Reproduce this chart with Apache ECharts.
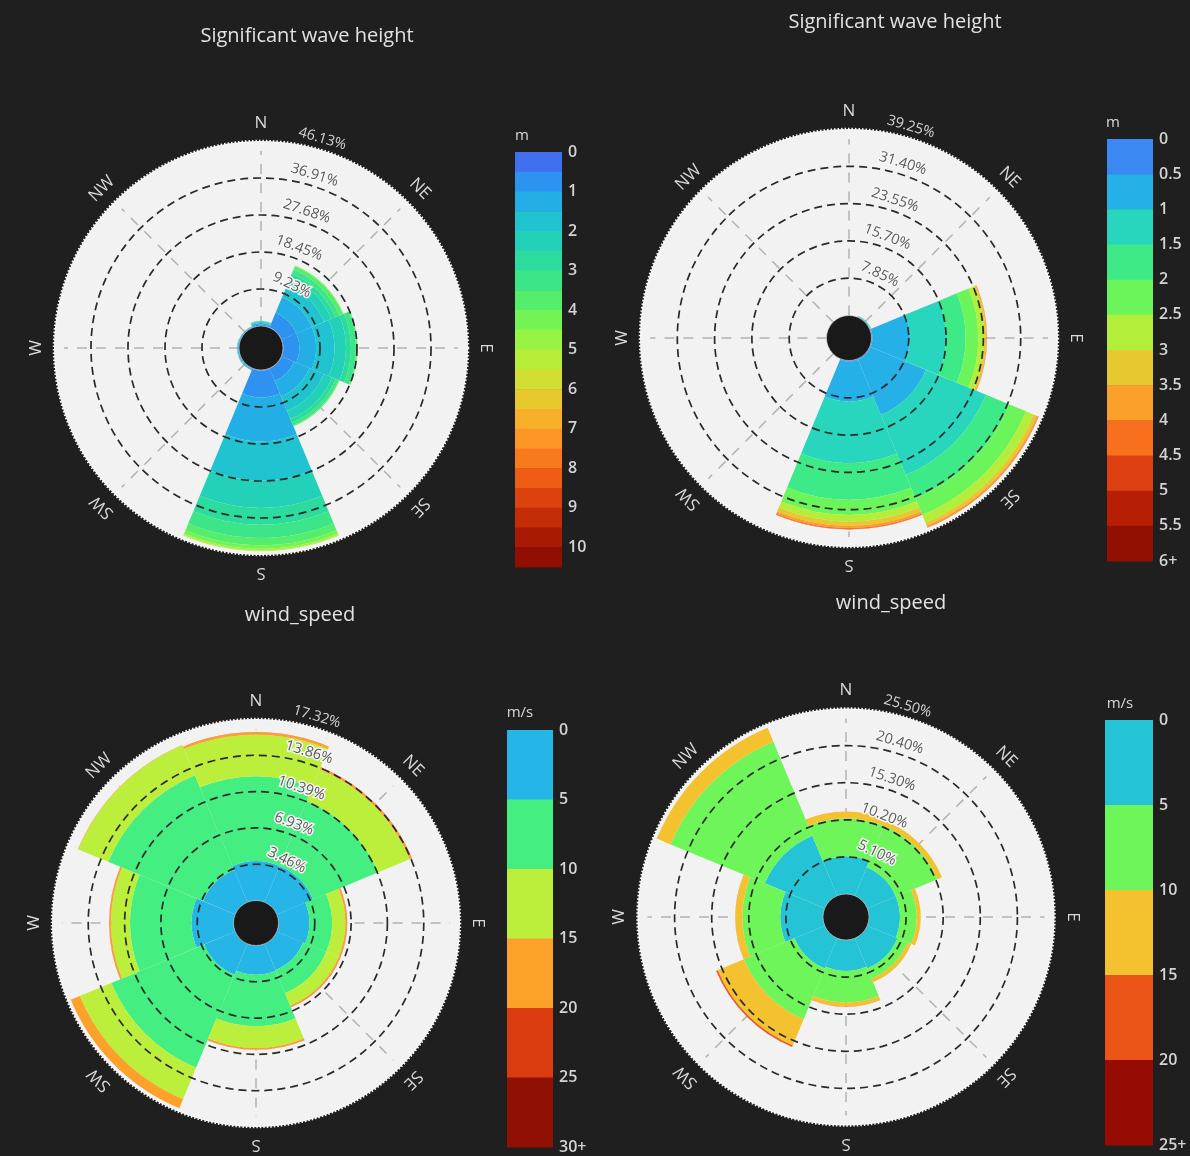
<!DOCTYPE html>
<html>
<head>
<meta charset="utf-8">
<title>Wave height and wind speed roses</title>
<script src="https://cdn.jsdelivr.net/npm/echarts@6/dist/echarts.min.js"></script>
<style>
  html, body { margin: 0; padding: 0; background: #1f1f1f; }
  #chart { width: 1190px; height: 1156px; }
</style>
</head>
<body>
<div id="chart"></div>
<script>
const FONT = "'Open Sans', 'Noto Sans', 'DejaVu Sans', sans-serif";

// Compass sectors, clockwise from north
const directions = ['N', 'NE', 'E', 'SE', 'S', 'SW', 'W', 'NW'];

// ---- Rose 1: significant wave height, 0.5 m classes (share of records, %) ----
const waveAClasses = ['0-0.5', '0.5-1', '1-1.5', '1.5-2', '2-2.5', '2.5-3', '3-3.5', '3.5-4', '4-4.5', '4.5-5',
  '5-5.5', '5.5-6', '6-6.5', '6.5-7', '7-7.5', '7.5-8', '8-8.5', '8.5-9', '9-9.5', '9.5-10', '10+'];
const waveAValues = [
  [0.05, 0.10, 0.10, 0.10, 0.20, 0.02, 0.02, 0.02],
  [0.30, 3.90, 3.97, 3.30, 6.60, 0.20, 0.15, 0.15],
  [0.35, 4.23, 4.16, 4.20, 11.00, 0.22, 0.18, 0.13],
  [0.25, 3.32, 4.57, 3.90, 9.80, 0.10, 0.10, 0.06],
  [0.15, 1.92, 2.90, 2.20, 6.80, 0.04, 0.04, 0.03],
  [0.10, 1.13, 1.26, 1.00, 4.20, 0.02, 0.01, 0.01],
  [0.06, 1.10, 1.24, 0.70, 3.30, 0, 0, 0],
  [0.04, 0.90, 0.35, 0.25, 1.80, 0, 0, 0],
  [0, 0.20, 0.05, 0.05, 0.90, 0, 0, 0],
  [0, 0, 0, 0, 0.40, 0, 0, 0],
  [0, 0, 0, 0, 0.15, 0, 0, 0],
  [0, 0, 0, 0, 0.07, 0, 0, 0],
  [0, 0, 0, 0, 0, 0, 0, 0],
  [0, 0, 0, 0, 0, 0, 0, 0],
  [0, 0, 0, 0, 0, 0, 0, 0],
  [0, 0, 0, 0, 0, 0, 0, 0],
  [0, 0, 0, 0, 0, 0, 0, 0],
  [0, 0, 0, 0, 0, 0, 0, 0],
  [0, 0, 0, 0, 0, 0, 0, 0],
  [0, 0, 0, 0, 0, 0, 0, 0],
  [0, 0, 0, 0, 0, 0, 0, 0]
];
const waveAColors = ['#4070f0', '#2e92f0', '#24aee6', '#20c3d0', '#22d1b8', '#2bdc9e', '#3ce587', '#55ed6c',
  '#74f355', '#97f344', '#b7ec39', '#d2de31', '#e8c92d', '#f6b02a', '#fc9626', '#f97a1e', '#ee5c16',
  '#dc420e', '#c42c08', '#a81a04', '#900e02'];
const waveARings = [9.23, 18.45, 27.68, 36.91, 46.13];
const waveAScale = ['0', '1', '2', '3', '4', '5', '6', '7', '8', '9', '10'];

// ---- Rose 2: significant wave height, 0.5 m classes up to 6+ m ----
const waveBClasses = ['0-0.5', '0.5-1', '1-1.5', '1.5-2', '2-2.5', '2.5-3', '3-3.5', '3.5-4', '4-4.5', '4.5-5', '5-5.5', '5.5-6+'];
const waveBValues = [
  [0, 0.05, 0.20, 0.20, 0.20, 0, 0, 0],
  [0, 0.10, 7.84, 12.60, 8.40, 0, 0, 0],
  [0, 0.10, 7.64, 13.70, 13.00, 0, 0, 0],
  [0, 0.08, 4.14, 5.30, 7.70, 0, 0, 0],
  [0, 0.02, 2.67, 3.80, 3.20, 0, 0, 0],
  [0, 0, 1.26, 1.70, 1.40, 0, 0, 0],
  [0, 0, 0.35, 0.70, 0.90, 0, 0, 0],
  [0, 0, 0.15, 0.35, 0.45, 0, 0, 0],
  [0, 0, 0.06, 0.13, 0.20, 0, 0, 0],
  [0, 0, 0, 0, 0.10, 0, 0, 0],
  [0, 0, 0, 0, 0, 0, 0, 0],
  [0, 0, 0, 0, 0, 0, 0, 0]
];
const waveBColors = ['#3b88f2', '#25b0e8', '#27d6bc', '#3eea88', '#6cf55a', '#b2ee3a', '#e6c830', '#fba02a',
  '#f8701e', '#dc4010', '#b81e04', '#921002'];
const waveBRings = [7.85, 15.70, 23.55, 31.40, 39.25];
const waveBScale = ['0', '0.5', '1', '1.5', '2', '2.5', '3', '3.5', '4', '4.5', '5', '5.5', '6+'];

// ---- Rose 3: wind speed, 5 m/s classes up to 30+ ----
const windAClasses = ['0-5', '5-10', '10-15', '15-20', '20-25', '25-30+'];
const windAValues = [
  [3.74, 3.74, 2.94, 2.72, 2.78, 3.20, 3.99, 3.32],
  [8.11, 6.74, 2.16, 2.38, 4.93, 9.60, 5.89, 9.80],
  [3.97, 3.25, 1.28, 1.28, 2.07, 3.25, 1.81, 3.08],
  [0.23, 0.22, 0.16, 0.16, 0.16, 0.93, 0.16, 0.05],
  [0.02, 0.02, 0.02, 0.02, 0.02, 0, 0.02, 0],
  [0, 0, 0, 0, 0, 0, 0, 0]
];
const windAColors = ['#25b5e6', '#45ee80', '#bcee3c', '#fca12a', '#dc3d10', '#901003'];
const windARings = [3.46, 6.93, 10.39, 13.86, 17.32];
const windAScale = ['0', '5', '10', '15', '20', '25', '30+'];

// ---- Rose 4: wind speed, 5 m/s classes up to 25+ ----
const windBClasses = ['0-5', '5-10', '10-15', '15-20', '20-25+'];
const windBValues = [
  [5.16, 4.24, 4.24, 4.50, 4.24, 4.50, 5.85, 8.92],
  [5.27, 6.19, 2.30, 1.49, 4.36, 7.54, 5.23, 14.00],
  [0.92, 0.69, 0.55, 0.55, 0.55, 3.90, 0.96, 2.08],
  [0, 0, 0, 0, 0.02, 0.23, 0.02, 0],
  [0, 0, 0, 0, 0, 0, 0, 0]
];
const windBColors = ['#24c4d6', '#6ef55a', '#f3c22e', '#ec5518', '#960b02'];
const windBRings = [5.10, 10.20, 15.30, 20.40, 25.50];
const windBScale = ['0', '5', '10', '15', '20', '25+'];

const panels = [
  { title: 'Significant wave height', unit: 'm', classes: waveAClasses, values: waveAValues, colors: waveAColors, rings: waveARings, scale: waveAScale, step: 2 },
  { title: 'Significant wave height', unit: 'm', classes: waveBClasses, values: waveBValues, colors: waveBColors, rings: waveBRings, scale: waveBScale, step: 1 },
  { title: 'wind_speed', unit: 'm/s', classes: windAClasses, values: windAValues, colors: windAColors, rings: windARings, scale: windAScale, step: 1 },
  { title: 'wind_speed', unit: 'm/s', classes: windBClasses, values: windBValues, colors: windBColors, rings: windBRings, scale: windBScale, step: 1 }
];

// Placement of each rose, its title and its colour scale
const layout = [
  { cx: 261, cy: 348, r0: 22, r1: 207, tx: 307, ty: 36, bar: [515, 152, 47, 415], ux: 522, uy: 136 },
  { cx: 849, cy: 338, r0: 22.5, r1: 209, tx: 895, ty: 22, bar: [1107, 139, 46, 422], ux: 1113, uy: 123 },
  { cx: 256, cy: 923, r0: 22.5, r1: 204, tx: 300, ty: 615, bar: [507, 730, 46, 417], ux: 520, uy: 713 },
  { cx: 846, cy: 917, r0: 23, r1: 208.5, tx: 891, ty: 603, bar: [1105, 720, 48, 425], ux: 1120, uy: 704 }
];

const option = {
  backgroundColor: '#1f1f1f',
  animation: false,
  polar: [], angleAxis: [], radiusAxis: [],
  grid: [], xAxis: [], yAxis: [],
  series: [],
  graphic: []
};

panels.forEach((p, i) => {
  const L = layout[i];
  const maxR = p.rings[p.rings.length - 1];

  option.polar.push({ center: [L.cx, L.cy], radius: [L.r0, L.r1] });
  option.angleAxis.push({
    polarIndex: i, type: 'category', data: directions, startAngle: 112.5, clockwise: true, boundaryGap: true,
    axisLine: { show: false }, axisTick: { show: false }, axisLabel: { show: false }, splitLine: { show: false }
  });
  option.radiusAxis.push({
    polarIndex: i, type: 'value', min: 0, max: maxR,
    axisLine: { show: false }, axisTick: { show: false }, axisLabel: { show: false }, splitLine: { show: false }
  });

  // light disc behind the rose
  option.series.push({
    type: 'custom', coordinateSystem: 'polar', polarIndex: i, silent: true, z: 1,
    data: [[0, 0]],
    renderItem: (params) => {
      const cs = params.coordSys;
      return {
        type: 'circle', shape: { cx: cs.cx, cy: cs.cy, r: cs.r },
        style: { fill: '#f2f2f2', stroke: '#fbfbfb', lineWidth: 2.5, lineDash: [1.5, 2] }
      };
    }
  });

  // compass spokes
  option.series.push({
    type: 'custom', coordinateSystem: 'polar', polarIndex: i, silent: true, z: 1,
    data: directions.map((d, k) => [maxR, k]),
    renderItem: (params, api) => {
      const cs = params.coordSys;
      const pt = api.coord([api.value(0), api.value(1)]);
      const dx = pt[0] - cs.cx, dy = pt[1] - cs.cy, len = Math.hypot(dx, dy);
      const ux = dx / len, uy = dy / len, a = cs.r0, b = cs.r - 10;
      return {
        type: 'line',
        shape: { x1: cs.cx + ux * a, y1: cs.cy + uy * a, x2: cs.cx + ux * b, y2: cs.cy + uy * b },
        style: { stroke: '#b3b3b3', lineWidth: 1.5, lineDash: [10, 9] }
      };
    }
  });

  // stacked sectors, one series per class
  p.values.forEach((row, b) => {
    option.series.push({
      type: 'bar', coordinateSystem: 'polar', polarIndex: i, stack: 'rose' + i,
      name: p.classes[b], data: row, barCategoryGap: '0%', silent: true, z: 2,
      itemStyle: { color: p.colors[b] }, emphasis: { disabled: true }
    });
  });

  // dashed percentage rings and their labels
  option.series.push({
    type: 'custom', coordinateSystem: 'polar', polarIndex: i, silent: true, z: 4,
    data: p.rings.map(v => [v, 0]),
    renderItem: (params, api) => {
      const cs = params.coordSys;
      const v = api.value(0);
      const r = api.coord([v, 0])[2];
      const outer = params.dataIndex === p.rings.length - 1;
      const children = [];
      if (!outer) {
        children.push({
          type: 'circle', shape: { cx: cs.cx, cy: cs.cy, r: r },
          style: { fill: 'none', stroke: '#2a2a2a', lineWidth: 1.7, lineDash: [8, 5] }
        });
      }
      const phi = (12.5 + 800 / r) * Math.PI / 180;
      const d = r + 11;
      const style = {
        text: v.toFixed(2) + '%', font: '14.5px ' + FONT, align: 'center', verticalAlign: 'middle',
        fill: outer ? '#d2d2d2' : '#5a5a5a'
      };
      if (!outer) { style.stroke = '#f6f6f6'; style.lineWidth = 3; }
      children.push({
        type: 'text', x: cs.cx + d * Math.sin(phi), y: cs.cy - d * Math.cos(phi), rotation: -phi, style: style
      });
      return { type: 'group', children: children };
    }
  });

  // compass letters around the rim
  option.series.push({
    type: 'custom', coordinateSystem: 'polar', polarIndex: i, silent: true, z: 4,
    data: directions.map((d, k) => [maxR, k]),
    renderItem: (params, api) => {
      const cs = params.coordSys;
      const k = api.value(1);
      const pt = api.coord([api.value(0), k]);
      const dx = pt[0] - cs.cx, dy = pt[1] - cs.cy, len = Math.hypot(dx, dy);
      const d = cs.r + 18;
      return {
        type: 'text', x: cs.cx + dx / len * d, y: cs.cy + dy / len * d, rotation: -k * Math.PI / 4,
        style: { text: directions[k], font: '17px ' + FONT, fill: '#d8d8d8', align: 'center', verticalAlign: 'middle' }
      };
    }
  });

  // centre hole
  option.series.push({
    type: 'custom', coordinateSystem: 'polar', polarIndex: i, silent: true, z: 3,
    data: [[0, 0]],
    renderItem: (params) => {
      const cs = params.coordSys;
      return {
        type: 'circle', shape: { cx: cs.cx, cy: cs.cy, r: cs.r0 },
        style: { fill: '#191919', stroke: 'rgba(210,210,210,0.55)', lineWidth: 1 }
      };
    }
  });

  // colour scale
  const n = p.colors.length;
  option.grid.push({ left: L.bar[0], top: L.bar[1], width: L.bar[2], height: L.bar[3] });
  option.xAxis.push({ gridIndex: i, type: 'value', min: 0, max: 1, show: false });
  option.yAxis.push({
    gridIndex: i, type: 'value', inverse: true, min: 0, max: n, interval: p.step, position: 'right',
    axisLine: { show: false }, axisTick: { show: false }, splitLine: { show: false },
    axisLabel: {
      color: '#d4d4d4', fontSize: 16, fontWeight: 600, fontFamily: FONT, margin: 6,
      formatter: (v) => (v % p.step === 0 && p.scale[v / p.step] !== undefined) ? p.scale[v / p.step] : ''
    }
  });
  option.series.push({
    type: 'custom', coordinateSystem: 'cartesian2d', xAxisIndex: i, yAxisIndex: i, silent: true,
    data: p.colors.map((c, k) => [0, k]),
    renderItem: (params, api) => {
      const k = api.value(1);
      const a = api.coord([0, k]);
      const b = api.coord([1, k + 1]);
      return {
        type: 'rect',
        shape: { x: a[0], y: Math.min(a[1], b[1]), width: b[0] - a[0], height: Math.abs(b[1] - a[1]) + 0.5 },
        style: { fill: p.colors[k] }
      };
    }
  });

  option.graphic.push({
    type: 'text', x: L.tx, y: L.ty, silent: true,
    style: { text: p.title, font: '20px ' + FONT, fill: '#e2e2e2', align: 'center', verticalAlign: 'middle' }
  });
  option.graphic.push({
    type: 'text', x: L.ux, y: L.uy, silent: true,
    style: { text: p.unit, font: '15px ' + FONT, fill: '#d8d8d8', align: 'center', verticalAlign: 'middle' }
  });
});

const chart = echarts.init(document.getElementById('chart'), null, { renderer: 'canvas' });
chart.setOption(option);
</script>
</body>
</html>
